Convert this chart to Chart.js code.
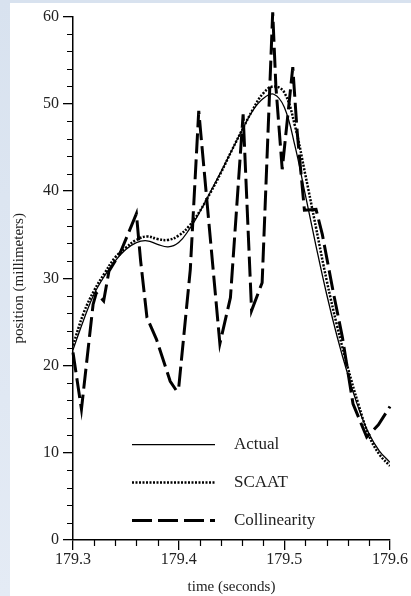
<!DOCTYPE html>
<html>
<head>
<meta charset="utf-8">
<script src="https://cdn.jsdelivr.net/npm/chart.js@4.4.0/dist/chart.umd.min.js"></script>
<style>
  html, body { margin: 0; padding: 0; }
  body { width: 411px; height: 596px; position: relative; overflow: hidden;
         background: linear-gradient(#d8e2ef, #e4ebf5); }
  #wrap { position: absolute; left: 10px; top: 3px; width: 401px; height: 593px; background: #fff; }
</style>
</head>
<body>
<div id="wrap"><canvas id="chart"></canvas></div>
<script>
// sample times for the smooth curves (seconds)
const sampleTimes = [179.30, 179.31, 179.32, 179.33, 179.34, 179.35, 179.36, 179.37, 179.38, 179.39,
  179.40, 179.41, 179.42, 179.43, 179.44, 179.45, 179.46, 179.47, 179.48, 179.49,
  179.50, 179.51, 179.52, 179.53, 179.54, 179.55, 179.56, 179.57, 179.58, 179.59, 179.60];

const actualValues = [21.8, 25.2, 28.2, 30.3, 32.0, 33.3, 34.1, 34.3, 33.9, 33.6,
  34.1, 35.6, 37.6, 39.9, 42.2, 44.6, 47.0, 49.2, 50.6, 51.1,
  49.6, 45.2, 39.5, 33.7, 28.2, 23.3, 19.0, 15.2, 12.2, 10.2, 8.9];

const scaatValues = [22.3, 26.0, 28.6, 30.6, 32.4, 33.5, 34.4, 34.8, 34.5, 34.4,
  34.9, 36.0, 37.7, 39.8, 42.1, 44.6, 47.0, 49.3, 51.2, 52.0,
  51.3, 47.5, 41.8, 35.8, 29.8, 24.5, 19.8, 15.6, 12.0, 9.8, 8.5];

// collinearity estimate is jagged, so it has its own time points
const collTimes = [179.300, 179.308, 179.319, 179.322, 179.326, 179.329, 179.334, 179.345, 179.360, 179.364,
  179.370, 179.379, 179.392, 179.398, 179.400, 179.411, 179.419, 179.439, 179.449, 179.461,
  179.469, 179.479, 179.489, 179.492, 179.498, 179.508, 179.512, 179.519, 179.530, 179.536,
  179.546, 179.555, 179.565, 179.578, 179.589, 179.600];
const collValues = [21.5, 15.0, 27.0, 28.3, 27.8, 27.4, 30.8, 33.0, 37.4, 32.0,
  25.5, 23.0, 18.2, 17.1, 17.4, 31.0, 49.2, 22.5, 27.8, 48.8,
  26.3, 29.5, 60.5, 52.0, 42.5, 54.2, 47.0, 37.8, 37.9, 35.0,
  28.6, 23.2, 15.6, 11.8, 13.2, 15.3];

const seriesNames = ["Actual", "SCAAT", "Collinearity"];

const xTicks = [179.3, 179.4, 179.5, 179.6];
const yTicks = [0, 10, 20, 30, 40, 50, 60];

const serif = "'Liberation Serif', 'Times New Roman', serif";

function pts(xs, ys) {
  return xs.map((x, i) => ({ x: x, y: ys[i] }));
}

// short ticks between the labelled ones
const minorTicks = {
  id: "minorTicks",
  afterDraw(chart) {
    const { ctx, chartArea, scales } = chart;
    ctx.save();
    ctx.strokeStyle = "#000";
    ctx.lineWidth = 1.2;
    ctx.beginPath();
    for (let v = 0; v <= 60; v += 2) {
      if (v % 10 === 0) continue;
      const py = Math.round(scales.y.getPixelForValue(v)) + 0.5;
      ctx.moveTo(chartArea.left - 6, py);
      ctx.lineTo(chartArea.left, py);
    }
    for (let i = 1; i < 15; i++) {
      if (i % 5 === 0) continue;
      const px = Math.round(scales.x.getPixelForValue(179.3 + i * 0.02)) + 0.5;
      ctx.moveTo(px, chartArea.bottom);
      ctx.lineTo(px, chartArea.bottom + 6);
    }
    ctx.stroke();
    ctx.restore();
  }
};

// legend drawn inside the plot, lower middle
const insideLegend = {
  id: "insideLegend",
  afterDatasetsDraw(chart) {
    const { ctx, chartArea } = chart;
    const x0 = chartArea.left + 59, x1 = chartArea.left + 142, tx = chartArea.left + 161;
    ctx.save();
    chart.data.datasets.forEach((ds, i) => {
      const y = chartArea.top + 428 + i * 38;
      ctx.strokeStyle = ds.borderColor;
      ctx.lineWidth = ds.borderWidth;
      ctx.setLineDash(ds.borderDash || []);
      ctx.beginPath();
      ctx.moveTo(x0, y);
      ctx.lineTo(x1, y);
      ctx.stroke();
      ctx.setLineDash([]);
      ctx.fillStyle = "#222";
      ctx.font = "17px " + serif;
      ctx.textBaseline = "middle";
      ctx.fillText(ds.label, tx, y);
    });
    ctx.restore();
  }
};

new Chart(document.getElementById("chart"), {
  type: "line",
  data: {
    datasets: [
      {
        label: seriesNames[0],
        data: pts(sampleTimes, actualValues),
        borderColor: "#000",
        borderWidth: 1.3,
        tension: 0.4,
        pointRadius: 0
      },
      {
        label: seriesNames[1],
        data: pts(sampleTimes, scaatValues),
        borderColor: "#000",
        borderWidth: 2.5,
        borderDash: [2, 1.5],
        tension: 0.4,
        pointRadius: 0
      },
      {
        label: seriesNames[2],
        data: pts(collTimes, collValues),
        borderColor: "#000",
        borderWidth: 3,
        borderDash: [20, 6],
        tension: 0,
        pointRadius: 0,
        clip: false
      }
    ]
  },
  options: {
    responsive: true,
    maintainAspectRatio: false,
    animation: false,
    layout: { padding: { left: 0, right: 21, top: 12, bottom: 0 } },
    plugins: {
      legend: { display: false },
      tooltip: { enabled: false }
    },
    scales: {
      x: {
        type: "linear",
        min: 179.3,
        max: 179.6,
        border: { color: "#000", width: 1.5 },
        grid: { drawOnChartArea: false, drawTicks: true, tickLength: 10, color: "#000", lineWidth: 1.3 },
        afterBuildTicks: s => { s.ticks = xTicks.map(v => ({ value: v })); },
        ticks: {
          color: "#222",
          padding: 0,
          maxRotation: 0,
          autoSkip: false,
          font: { family: serif, size: 16 },
          callback: v => Number(v).toFixed(1)
        },
        title: {
          display: true,
          text: "time (seconds)",
          color: "#222",
          padding: 0,
          font: { family: serif, size: 15 }
        },
        afterFit: s => { s.height = 56; }
      },
      y: {
        min: 0,
        max: 60,
        border: { color: "#000", width: 1.5 },
        grid: { drawOnChartArea: false, drawTicks: true, tickLength: 10, color: "#000", lineWidth: 1.3 },
        afterBuildTicks: s => { s.ticks = yTicks.map(v => ({ value: v })); },
        ticks: {
          color: "#222",
          padding: 4,
          font: { family: serif, size: 16 }
        },
        title: {
          display: true,
          text: "position (millimeters)",
          color: "#222",
          padding: 0,
          font: { family: serif, size: 15 }
        },
        afterFit: s => { s.width = 63; }
      }
    }
  },
  plugins: [minorTicks, insideLegend]
});
</script>
</body>
</html>
